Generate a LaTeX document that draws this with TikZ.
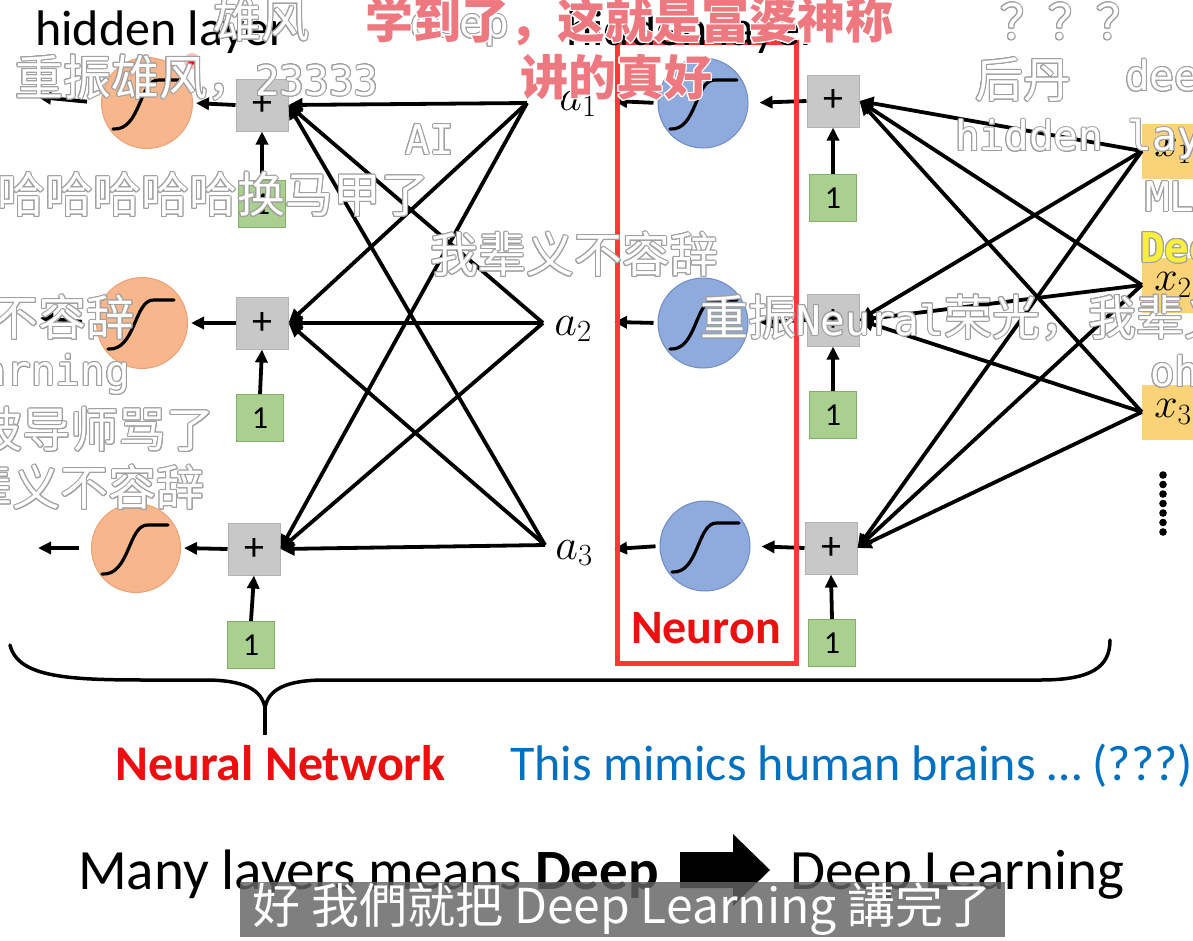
\RequirePackage{fix-cm}
\documentclass[tikz,border=0pt]{standalone}
\usepackage{fontspec}
\setmainfont{Carlito}
\newfontfamily\cjksc{Noto Sans CJK SC}
\newfontfamily\cjktc{Noto Sans CJK TC}
\newfontfamily\dmmono{DejaVu Sans Mono}
\usepackage{contour}
\contourlength{1.0pt}
\usetikzlibrary{arrows.meta}
\newcommand\setfs[1]{\fontsize{#1}{#1}\selectfont}
\definecolor{plusfill}{RGB}{200,200,200}
\definecolor{plusdraw}{RGB}{178,178,178}
\definecolor{onefill}{RGB}{169,208,142}
\definecolor{onedraw}{RGB}{130,175,105}
\definecolor{xfill}{RGB}{250,210,120}
\definecolor{bluefill}{RGB}{143,170,220}
\definecolor{bluedraw}{RGB}{110,140,195}
\definecolor{orfill}{RGB}{248,182,140}
\definecolor{ordraw}{RGB}{236,160,115}
\definecolor{boxred}{RGB}{255,55,55}
\definecolor{txtred}{RGB}{235,15,15}
\definecolor{txtblue}{RGB}{0,112,192}
\definecolor{dmgray}{RGB}{160,160,160}
\definecolor{dmpink}{RGB}{238,120,128}
\definecolor{dmyellow}{RGB}{250,240,60}
\definecolor{subbg}{RGB}{100,100,100}
\newcommand\dmk[1]{\contour{dmgray}{\textcolor{white}{#1}}}
\newcommand\dml[1]{{\dmmono\setfs{41}#1}}
\begin{document}
\begin{tikzpicture}[x=1pt,y=-1pt,
  plusbox/.style={draw=plusdraw, fill=plusfill, line width=1pt, minimum size=52pt, inner sep=0, font={\setfs{40}}},
  onebox/.style={draw=onedraw, fill=onefill, line width=1pt, minimum size=47pt, inner sep=0, font={\setfs{32}}},
  xbox/.style={fill=xfill, minimum width=62pt, minimum height=55pt, inner sep=0, font={\setfs{42}}},
  bluec/.style={circle, draw=bluedraw, fill=bluefill, line width=1pt, minimum size=90pt, inner sep=0},
  orc/.style={circle, draw=ordraw, fill=orfill, line width=1pt, minimum size=91pt, inner sep=0},
  conn/.style={line width=3.8pt, -{Triangle[length=14pt,width=13pt]}},
  sarrow/.style={line width=3.8pt, -{Triangle[length=13pt,width=12pt]}},
  sigm/.style={line width=3.2pt, line cap=round},
  lab/.style={inner sep=0, font={\setfs{44}}},
  slide/.style={inner sep=0, anchor=base west},
  dm/.style={inner sep=0, anchor=west, font={\setfs{48}\cjksc}},
]
\useasboundingbox (0,0) rectangle (1193,940);
\fill[white] (0,0) rectangle (1193,940);

% ---------- input boxes ----------
\node[xbox] (x1) at (1173,151) {$x_1$};
\node[xbox] (x2) at (1173,285) {$x_2$};
\node[xbox] (x3) at (1173,412) {$x_3$};
\foreach \i in {0,...,6} \fill (1163,475+\i*9.5) circle (3.8pt);

% ---------- right layer ----------
\node[plusbox] (rp1) at (833,101) {+};
\node[plusbox] (rp2) at (833,320) {+};
\node[plusbox] (rp3) at (831,548) {+};
\node[onebox] (rg1) at (833,198) {1};
\node[onebox] (rg2) at (833,415) {1};
\node[onebox] (rg3) at (832,643) {1};
\node[bluec] (b1) at (703,103) {};
\node[bluec] (b2) at (703,323) {};
\node[bluec] (b3) at (705,546) {};
\foreach \b in {b1,b2,b3}
  \draw[sigm, shift={(\b)}] (-33,26) .. controls (-6,28) and (-8,-24) .. (12,-23) -- (34,-23);

\foreach \p in {rp1,rp2,rp3}
  \foreach \x in {x1,x2,x3}
    \draw[conn] (\x.west) -- (\p.east);
\draw[sarrow] (rg1.north) -- (rp1.south);
\draw[sarrow] (rg2.north) -- (rp2.south);
\draw[sarrow] (rg3.north) -- (rp3.south);
\draw[sarrow, shorten >=11pt] (rp1.west) -- (b1.east);
\draw[sarrow, shorten >=11pt] (rp2.west) -- (b2.east);
\draw[sarrow, shorten >=11pt] (rp3.west) -- (b3.east);

% ---------- a outputs ----------
\coordinate (pa1) at (527,103);
\coordinate (pa2) at (543,323);
\coordinate (pa3) at (545,545);
\node[lab] (a1) at (578,104) {$a_1$};
\node[lab] (a2) at (573,329) {$a_2$};
\node[lab] (a3) at (574,553) {$a_3$};
\coordinate (ea1) at (614,101);
\coordinate (ea2) at (614,322);
\coordinate (ea3) at (614,549);
\draw[sarrow, shorten <=4pt] (b1.west) -- (ea1);
\draw[sarrow, shorten <=4pt] (b2.west) -- (ea2);
\draw[sarrow, shorten <=4pt] (b3.west) -- (ea3);

% ---------- left layer ----------
\node[plusbox] (lp1) at (262,105) {+};
\node[plusbox] (lp2) at (262,323) {+};
\node[plusbox] (lp3) at (254,549) {+};
\node[onebox] (lg1) at (262,204) {1};
\node[onebox] (lg2) at (260,418) {1};
\node[onebox] (lg3) at (251,645) {1};
\node[orc] (o1) at (147,103) {};
\node[orc] (o2) at (142,323) {};
\node[orc, minimum size=89pt] (o3) at (136,548) {};
\foreach \o in {o1,o2,o3}
  \draw[sigm, shift={(\o)}] (-34,26) .. controls (-6,28) and (-8,-24) .. (12,-23) -- (32,-23);

\foreach \p in {lp1,lp2,lp3}
  \foreach \a in {pa1,pa2,pa3}
    \draw[conn] (\a) -- (\p.east);
\draw[sarrow] (lg1.north) -- (lp1.south);
\draw[sarrow] (lg2.north) -- (lp2.south);
\draw[sarrow] (lg3.north) -- (lp3.south);
\draw[sarrow, shorten >=3pt] (lp1.west) -- (o1.east);
\draw[sarrow, shorten >=3pt] (lp2.west) -- (o2.east);
\draw[sarrow, shorten >=3pt] (lp3.west) -- (o3.east);
\coordinate (eo1) at (38,97);
\coordinate (eo2) at (40,318);
\coordinate (eo3) at (38,548);
\draw[sarrow, shorten <=14pt] (o1.west) -- (eo1);
\draw[sarrow, shorten <=14pt] (o2.west) -- (eo2);
\draw[sarrow, shorten <=12pt] (o3.west) -- (eo3);

% ---------- neuron box ----------
\draw[boxred, line width=5pt] (617,42) rectangle (796,663);
\node[inner sep=0, font={\setfs{48}\bfseries}, text=txtred] (neu) at (706,628) {Neuron};

% ---------- slide texts ----------
\node[slide, font={\setfs{50}}] (hl1) at (35,45) {hidden layer};
\node[slide, font={\setfs{50}}] (hl2) at (566,45) {hidden layer};

% ---------- brace ----------
\draw[line width=3.5pt, line cap=round]
  (10,645) .. controls (18,678) and (70,680) .. (150,680) -- (205,680)
  .. controls (245,680) and (262,690) .. (265,708)
  .. controls (268,690) and (285,680) .. (325,680) -- (1040,680)
  .. controls (1090,680) and (1110,668) .. (1110,640);
\coordinate (btip) at (265,706);
\coordinate (bstem) at (265,735);
\draw[line width=3.5pt] (btip) -- (bstem);

\node[slide, font={\setfs{50}\bfseries}, text=txtred] (nn) at (115,780) {Neural Network};
\node[slide, font={\setfs{50}}, text=txtblue] (mim) at (510,780) {This mimics human brains \dots{} (???)};
\node[slide, font={\setfs{57}}] (many) at (78,889) {Many layers means \textbf{Deep}};
\node[slide, font={\setfs{57}}] (dl) at (790,889) {Deep Learning};
\fill (680,852) -- (733,852) -- (733,834) -- (770,870) -- (733,906) -- (733,888) -- (680,888) -- cycle;

% ---------- pointer dot ----------
\fill[red!60, opacity=0.4] (192,61) circle (8pt);
\fill[red] (192,61) circle (4pt);

% ---------- danmaku ----------
\node[dm] (dm1) at (213,20) {\dmk{雄风}};
\node[dm] (dm2) at (410,27) {\dmk{\dml{deep}}};
\node[dm] (dm3) at (365,22) {\contour{white}{\textcolor{dmpink}{\bfseries 学到了，这就是富婆神称}}};
\node[dm] (dm4) at (520,78) {\contour{white}{\textcolor{dmpink}{\bfseries 讲的真好}}};
\node[dm] (dm5) at (1000,22) {\dmk{？？？}};
\node[dm] (dm6) at (15,78) {\dmk{重振雄风，\dml{23333}}};
\node[dm] (dm7) at (975,80) {\dmk{后丹}};
\node[dm] (dm8) at (1125,80) {\dmk{\dml{deep}}};
\node[dm] (dm9) at (405,140) {\dmk{\dml{AI}}};
\node[dm] (dm10) at (955,140) {\dmk{\dml{hidden layer}}};
\node[dm] (dm11) at (-3,195) {\dmk{哈哈哈哈哈换马甲了}};
\node[dm] (dm12) at (1145,197) {\dmk{\dml{ML}}};
\node[dm] (dm13) at (430,255) {\dmk{我辈义不容辞}};
\node[dm] (dm14) at (1140,252) {\contour{dmgray}{\textcolor{dmyellow}{\dml{\bfseries Deep}}}};
\node[dm, anchor=east] (dm15) at (135,318) {\dmk{义不容辞}};
\node[dm] (dm16) at (700,318) {\dmk{重振\dml{Neural}荣光，我辈义不容辞}};
\node[dm, anchor=east] (dm17) at (130,375) {\dmk{\dml{learning}}};
\node[dm] (dm18) at (1150,372) {\dmk{\dml{oh}}};
\node[dm, anchor=east] (dm19) at (215,430) {\dmk{被导师骂了}};
\node[dm, anchor=east] (dm20) at (205,488) {\dmk{我辈义不容辞}};

% ---------- subtitle ----------
\fill[subbg, opacity=0.82] (240,882) rectangle (1005,937);
\node[inner sep=0, font={\setfs{48}\cjktc}, text=white] (sub) at (622,909) {好 我們就把 Deep Learning 講完了};
\end{tikzpicture}
\end{document}
